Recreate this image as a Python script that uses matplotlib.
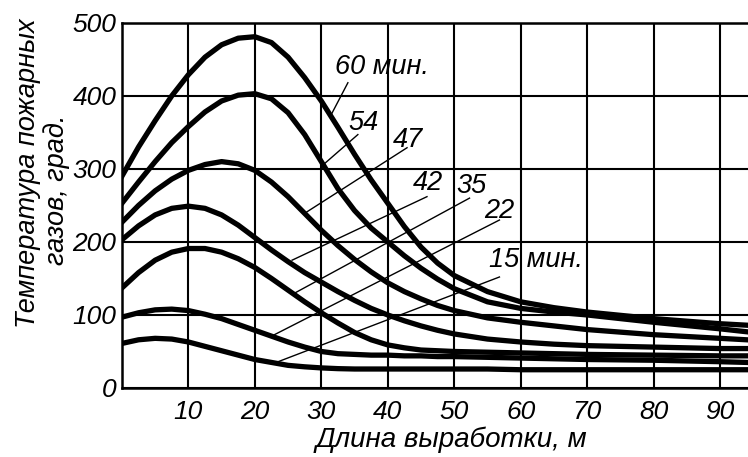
import matplotlib.pyplot as plt

plt.rcParams['font.family'] = ['Liberation Sans', 'DejaVu Sans']
plt.rcParams['font.style'] = 'italic'

# distance along the working, m
x = [0, 2.5, 5, 7.5, 10, 12.5, 15, 17.5, 20, 22.5, 25, 27.5, 30, 32.5, 35, 37.5,
     40, 42.5, 45, 47.5, 50, 55, 60, 65, 70, 80, 90, 94]

# gas temperature, deg, for each time after fire start
t60 = [290, 330, 366, 400, 429, 453, 470, 479, 481, 473, 453, 425, 393, 357, 320, 285,
       253, 221, 193, 171, 154, 132, 118, 110, 104, 95, 88, 86]
t54 = [253, 282, 310, 336, 358, 378, 393, 401, 403, 396, 377, 347, 310, 273, 243, 219,
       200, 181, 164, 149, 136, 118, 109, 104, 100, 90, 81, 77]
t47 = [227, 250, 270, 286, 298, 306, 310, 307, 298, 282, 262, 239, 216, 195, 176, 159,
       144, 132, 122, 113, 106, 96, 90, 85, 80, 73, 68, 66]
t42 = [203, 222, 237, 246, 249, 246, 237, 223, 206, 189, 173, 158, 145, 132, 120, 109,
       100, 92, 85, 79, 74, 67, 63, 60, 58, 56, 54, 54]
t35 = [137, 158, 175, 186, 191, 191, 186, 177, 165, 150, 134, 118, 103, 89, 76, 66,
       59, 55, 52, 51, 50, 49, 48, 47, 46, 45, 44, 44]
t22 = [97, 103, 107, 108, 106, 101, 95, 87, 79, 71, 63, 56, 50, 47, 46, 45,
       45, 44, 44, 43, 43, 42, 41, 40, 39, 38, 36, 35]
t15 = [61, 66, 68, 67, 63, 57, 51, 45, 39, 35, 31, 29, 27.5, 26.5, 26, 26,
       26, 26, 26, 26, 26, 26, 25, 25, 25, 25, 25, 25]

curves = [t60, t54, t47, t42, t35, t22, t15]

# curve labels: text, label position, leader line start and end
labels = ['60 мин.', '54', '47', '42', '35', '22', '15 мин.']
label_x = [32.0, 34.0, 40.8, 43.8, 50.3, 54.5, 55.2]
label_y = [440, 363, 340, 281, 277, 242, 175]
lead_x1 = [34.0, 35.5, 42.9, 45.9, 52.3, 56.8, 56.8]
lead_y1 = [418, 347, 329, 262, 260, 230, 152]
lead_x2 = [31.3, 30.2, 27.8, 25.6, 26.0, 22.3, 23.5]
lead_y2 = [371, 305, 241, 175, 130, 70, 36]

fig = plt.figure(figsize=(7.48, 4.57), dpi=100)
ax = fig.add_axes([0.163, 0.151, 0.837, 0.799])

for c in curves:
    ax.plot(x, c, color='black', lw=3.8, solid_joinstyle='round')

for i in range(len(labels)):
    ax.plot([lead_x1[i], lead_x2[i]], [lead_y1[i], lead_y2[i]], color='black', lw=1.0)
    ax.text(label_x[i], label_y[i], labels[i], fontsize=19.5, ha='left', va='center')

ax.set_xlim(0, 94.2)
ax.set_ylim(0, 500)
ax.set_xticks(range(10, 100, 10))
ax.set_yticks(range(0, 600, 100))
ax.grid(color='black', lw=1.5)
ax.set_axisbelow(True)
ax.tick_params(length=0, labelsize=19)
ax.tick_params(axis='x', pad=9)
ax.tick_params(axis='y', pad=4)
for s in ['left', 'top', 'bottom']:
    ax.spines[s].set_linewidth(1.8)
ax.spines['right'].set_visible(False)

fig.text(451 / 748, 1 - 440 / 457, 'Длина выработки, м', fontsize=20,
         ha='center', va='center')
fig.text(28 / 748, 1 - 173 / 457, 'Температура пожарных', fontsize=19.5,
         rotation=90, ha='center', va='center')
fig.text(57 / 748, 1 - 190 / 457, 'газов, град.', fontsize=19.5,
         rotation=90, ha='center', va='center')

fig.savefig('out.png', dpi=100)
